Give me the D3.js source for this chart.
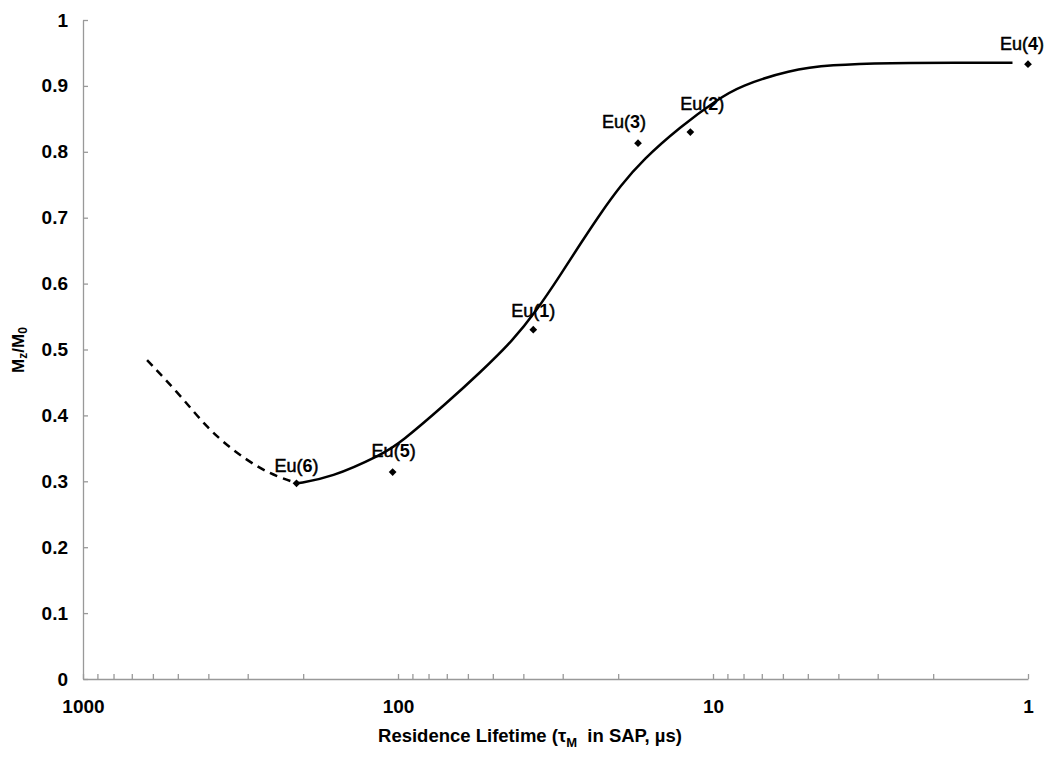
<!DOCTYPE html>
<html>
<head>
<meta charset="utf-8">
<script src="https://cdnjs.cloudflare.com/ajax/libs/d3/7.8.5/d3.min.js"></script>
<style>
  body { margin: 0; background: #fff; }
  svg { font-family: "Liberation Sans", Arial, sans-serif; }
  .axis path, .axis line { stroke: #999; stroke-width: 1.3; }
  .axis text { font-size: 19px; font-weight: bold; fill: #000; }
</style>
</head>
<body>
<svg id="chart" width="1050" height="762"></svg>
<script>
// measured complexes
const compounds = ['Eu(1)', 'Eu(2)', 'Eu(3)', 'Eu(4)', 'Eu(5)', 'Eu(6)']
const tauM = [37.2, 11.8, 17.3, 1.0, 104, 210]
const mzRatio = [0.530, 0.830, 0.813, 0.933, 0.314, 0.297]

// fitted curve, solid part
const fitTau = [209, 164, 112, 98.5, 69.9, 54.9, 43.1, 36.2, 30.6, 26.4, 22.8, 19.7, 16.7, 12.7, 9.71, 8.21, 5.70, 4.25, 2.74, 1.68, 1.12]
const fitMz = [0.297, 0.305, 0.341, 0.358, 0.419, 0.465, 0.514, 0.560, 0.612, 0.660, 0.706, 0.748, 0.788, 0.838, 0.879, 0.900, 0.924, 0.932, 0.935, 0.935, 0.935]

// extrapolated part (dashed)
const extTau = [626, 492, 404, 334, 280, 242, 209]
const extMz = [0.484, 0.431, 0.381, 0.347, 0.322, 0.307, 0.297]

// axis ticks
const xMajor = [1000, 100, 10, 1]
const yTicks = [0, 0.1, 0.2, 0.3, 0.4, 0.5, 0.6, 0.7, 0.8, 0.9, 1]

// little label nudges (px) so they sit like in the original figure
const labelNudge = {
  'Eu(1)': [0, -13], 'Eu(2)': [12, -22], 'Eu(3)': [-14, -15],
  'Eu(4)': [-6, -14], 'Eu(5)': [1, -15], 'Eu(6)': [0, -11]
}

const svg = d3.select('#chart')
const margin = { top: 20, left: 83, right: 22, bottom: 83 }
const width = +svg.attr('width') - margin.left - margin.right
const height = +svg.attr('height') - margin.top - margin.bottom
const g = svg.append('g').attr('transform', 'translate(' + margin.left + ',' + margin.top + ')')

const x = d3.scaleLog().domain([1000, 1]).range([0, width])
const y = d3.scaleLinear().domain([0, 1]).range([height, 0])

// every integer multiple within each decade gets a tick
var xTicks = []
for (var d = 1; d < 1000; d *= 10) {
  for (var k = 1; k < 10; k++) xTicks.push(d * k)
}
xTicks.push(1000)

g.append('g')
    .attr('class', 'axis axis--x')
    .attr('transform', 'translate(0,' + height + ')')
    .call(d3.axisBottom(x).tickValues(xTicks).tickSize(-5).tickSizeOuter(0).tickPadding(21)
      .tickFormat(v => xMajor.indexOf(v) >= 0 ? String(v) : ''))

g.append('g')
    .attr('class', 'axis axis--y')
    .call(d3.axisLeft(y).tickValues(yTicks).tickSize(-5).tickSizeOuter(0).tickPadding(15)
      .tickFormat(d3.format('.1~f')))

// curves (basis spline smooths the hand-read points a little)
const line = d3.line()
    .x(p => x(p[0]))
    .y(p => y(p[1]))
    .curve(d3.curveBasis)

g.append('path')
    .datum(d3.zip(extTau, extMz))
    .attr('d', line)
    .attr('fill', 'none')
    .attr('stroke', '#000')
    .attr('stroke-width', 2.5)
    .attr('stroke-dasharray', '8,6')

g.append('path')
    .datum(d3.zip(fitTau, fitMz))
    .attr('d', line)
    .attr('fill', 'none')
    .attr('stroke', '#000')
    .attr('stroke-width', 2.5)

// points
const pts = g.selectAll('.pt').data(compounds).enter()
    .append('g')
    .attr('class', 'pt')
    .attr('transform', (c, i) => 'translate(' + x(tauM[i]) + ',' + y(mzRatio[i]) + ')')

// square turned 45deg, like the excel diamond marker
pts.append('path')
    .attr('d', d3.symbol().type(d3.symbolSquare).size(30))
    .attr('transform', 'rotate(45)')
    .attr('fill', '#000')

const lbl = pts.append('text')
    .attr('x', c => labelNudge[c][0])
    .attr('y', c => labelNudge[c][1])
    .attr('text-anchor', 'middle')
    .attr('font-size', 18)
    .attr('fill', '#000')
lbl.append('tspan').attr('stroke', '#000').attr('stroke-width', 0.5).text(c => c.slice(0, 3))
lbl.append('tspan').attr('font-weight', 'bold').text(c => c.slice(3, -1))
lbl.append('tspan').attr('stroke', '#000').attr('stroke-width', 0.5).text(')')

// axis titles
const xt = svg.append('text')
    .attr('x', 530)
    .attr('y', 742)
    .attr('text-anchor', 'middle')
    .attr('font-size', 18.5)
    .attr('font-weight', 'bold')
xt.append('tspan').text('Residence Lifetime (\u03c4')
xt.append('tspan').attr('font-size', 13).attr('dy', 5).text('M')
xt.append('tspan').attr('dy', -5).text('\u00a0 in SAP, \u00b5s)')

const yt = svg.append('text')
    .attr('transform', 'translate(24,350) rotate(-90)')
    .attr('text-anchor', 'middle')
    .attr('font-size', 17)
    .attr('font-weight', 'bold')
yt.append('tspan').text('M')
yt.append('tspan').attr('font-size', 12).attr('dy', 3).text('z')
yt.append('tspan').attr('dy', -3).text('/M')
yt.append('tspan').attr('font-size', 12).attr('dy', 3).text('0')
</script>
</body>
</html>
